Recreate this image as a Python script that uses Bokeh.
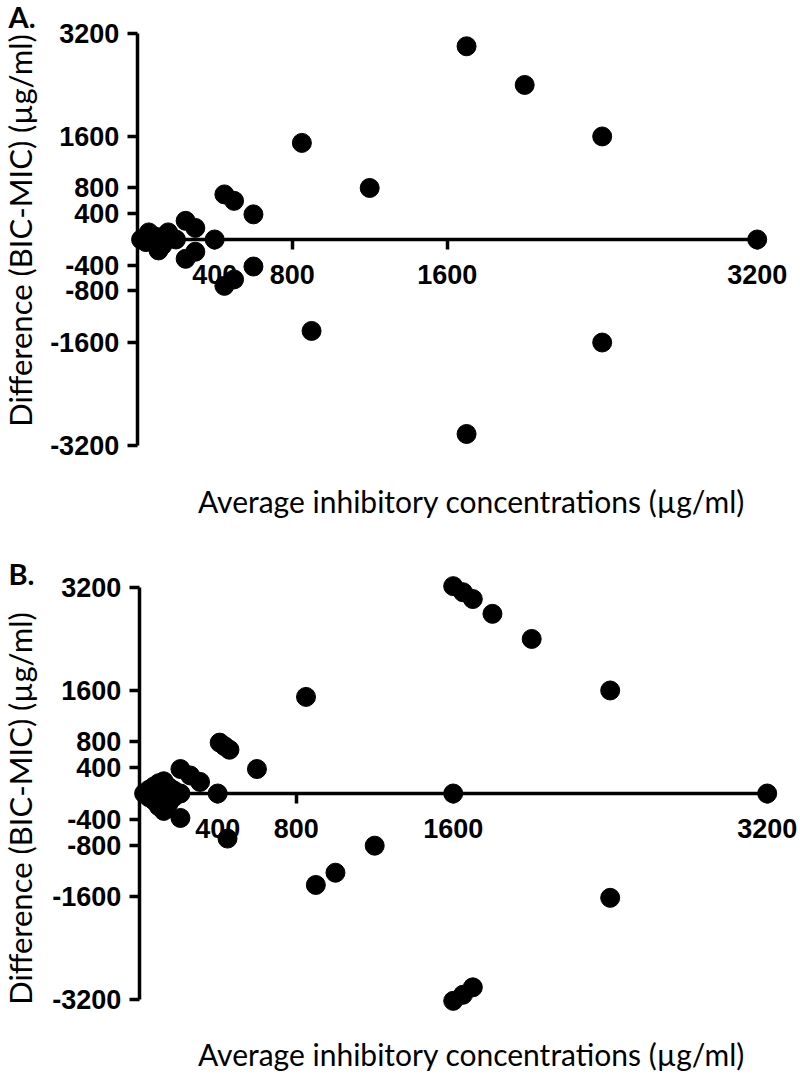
import math
from bokeh.plotting import figure
from bokeh.models import LinearAxis, FixedTicker, Range1d, Label, PrintfTickFormatter
from bokeh.layouts import column
from bokeh.embed import file_html
from bokeh.resources import INLINE

# ---- data -----------------------------------------------------------------
x_ticks = [400, 800, 1600, 3200]
y_ticks = [-3200, -1600, -800, -400, 400, 800, 1600, 3200]
x_title = "Average inhibitory concentrations (µg/ml)"
y_title = "Difference (BIC-MIC) (µg/ml)"
panel_letters = ["A.", "B."]

# Panel A: average of MIC and BIC vs. difference (BIC - MIC)
a_avg = [20, 45, 60, 90, 100, 110, 130, 160, 200,
         250, 300, 250, 300, 400,
         450, 500, 600, 600, 450, 500,
         850, 900, 1200, 1700, 1700, 2000, 2400, 2400, 3200]
a_diff = [0, -40, 110, -60, 40, -170, -90, 110, 0,
          290, 180, -300, -190, 0,
          700, 600, 390, -420, -720, -620,
          1500, -1420, 800, 3000, -3020, 2400, 1600, -1600, 0]

# Panel B
b_avg = [25, 50, 50, 75, 75, 100, 100, 100, 125, 125, 125, 150, 150, 175, 175, 210,
         210, 260, 310, 210, 400,
         410, 435, 460, 600, 450,
         850, 900, 1000, 1200, 1600, 3200,
         1600, 1650, 1700, 1800, 2000, 2400, 2400,
         1600, 1650, 1700]
b_diff = [0, 60, -60, 110, -110, 0, 160, -200, 190, -270, 0, 100, -150, 50, -60, 0,
          380, 280, 180, -380, 0,
          790, 735, 680, 380, -700,
          1500, -1420, -1230, -810, 0, 0,
          3220, 3125, 3020, 2790, 2400, 1600, -1620,
          -3220, -3125, -3010]

# ---- styling ----------------------------------------------------------------
TICK_FONT = "Liberation Sans"
TITLE_FONT = "Lato"
W = 800


def style_axis(ax, standoff):
    ax.formatter = PrintfTickFormatter(format="%d")
    ax.axis_line_width = 3.5
    ax.axis_line_color = "black"
    ax.major_tick_line_width = 3.5
    ax.major_tick_line_color = "black"
    ax.major_tick_in = 0
    ax.major_tick_out = 10
    ax.minor_tick_line_color = None
    ax.major_label_text_font = TICK_FONT
    ax.major_label_text_font_style = "bold"
    ax.major_label_text_font_size = "27px"
    ax.major_label_text_color = "black"
    ax.major_label_standoff = standoff


def make_panel(avg, diff, letter, x_range, y_range, height, title_y, letter_y, ytitle_y):
    # the frame fills the whole figure so that axes placed at 0 are not clipped
    p = figure(width=W, height=height, x_range=x_range, y_range=y_range,
               x_axis_location=None, y_axis_location=None,
               toolbar_location=None, output_backend="svg",
               min_border=0)
    p.xgrid.visible = False
    p.ygrid.visible = False
    p.outline_line_color = None

    xa = LinearAxis(ticker=FixedTicker(ticks=x_ticks), fixed_location=0, bounds=(0, 3200))
    ya = LinearAxis(ticker=FixedTicker(ticks=y_ticks), fixed_location=0, bounds=(-3200, 3200))
    style_axis(xa, 16)
    style_axis(ya, 8)
    p.add_layout(xa, "below")
    p.add_layout(ya, "left")

    p.scatter(avg, diff, size=19, marker="circle", color="black")

    p.add_layout(Label(x=471, y=title_y, x_units="screen", y_units="screen",
                       text=x_title, text_align="center", text_baseline="middle",
                       text_font=TITLE_FONT, text_font_size="30px", text_color="black"))
    p.add_layout(Label(x=19, y=ytitle_y, x_units="screen", y_units="screen",
                       angle=math.pi / 2,
                       text=y_title, text_align="center", text_baseline="middle",
                       text_font=TITLE_FONT, text_font_size="31px", text_color="black"))
    p.add_layout(Label(x=8, y=letter_y, x_units="screen", y_units="screen",
                       text=letter, text_align="left", text_baseline="middle",
                       text_font=TITLE_FONT, text_font_style="bold",
                       text_font_size="29px", text_color="black"))
    return p


pa = make_panel(a_avg, a_diff, panel_letters[0],
                Range1d(-705.5, 3423.5), Range1d(-4488, 3711), 528, 28, 512, 298)
pb = make_panel(b_avg, b_diff, panel_letters[1],
                Range1d(-706.8, 3369.7), Range1d(-4379, 4115), 547, 22, 502, 267)

layout = column(pa, pb, spacing=0)
open("out.html", "w").write(file_html(layout, INLINE))
